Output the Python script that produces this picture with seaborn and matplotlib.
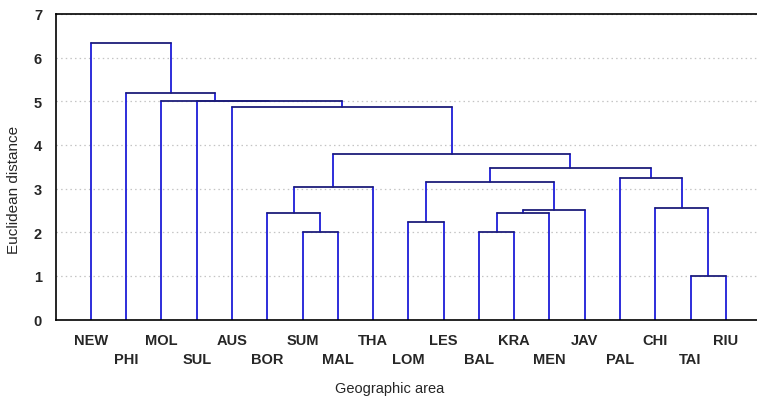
import matplotlib
matplotlib.use("Agg")
import matplotlib.pyplot as plt
import numpy as np
import pandas as pd
import seaborn as sns

# Leaf order along the x axis
areas = ["NEW", "PHI", "MOL", "SUL", "AUS", "BOR", "SUM", "MAL", "THA", "LOM",
         "LES", "BAL", "KRA", "MEN", "JAV", "PAL", "CHI", "TAI", "RIU"]

# Agglomeration steps: node ids < 19 are leaves, later ids are earlier merges
merge_left = [17, 6, 11, 9, 5, 21, 24, 16, 23, 22, 15, 28, 27, 4, 3, 2, 1, 0]
merge_right = [18, 7, 12, 10, 20, 13, 14, 19, 8, 25, 26, 29, 30, 31, 32, 33, 34, 35]
merge_height = [1.00, 2.01, 2.01, 2.24, 2.45, 2.45, 2.51, 2.55, 3.03, 3.16,
                3.25, 3.47, 3.79, 4.87, 5.00, 5.01, 5.18, 6.34]

y_ticks = [0, 1, 2, 3, 4, 5, 6, 7]

sns.set_theme(style="white")
plt.rcParams["font.family"] = ["Liberation Sans", "DejaVu Sans"]

# Positions of leaves and merged nodes
n = len(areas)
pos = {i: float(i + 1) for i in range(n)}
hgt = {i: 0.0 for i in range(n)}
vert_rows, horiz_rows = [], []
for k, (a, b, h) in enumerate(zip(merge_left, merge_right, merge_height)):
    node = n + k
    for side, child in (("l", a), ("r", b)):
        vert_rows += [dict(seg=f"{node}{side}", x=pos[child], y=hgt[child]),
                      dict(seg=f"{node}{side}", x=pos[child], y=h)]
    horiz_rows += [dict(seg=node, x=pos[a], y=h), dict(seg=node, x=pos[b], y=h)]
    pos[node] = (pos[a] + pos[b]) / 2
    hgt[node] = h

vert = pd.DataFrame(vert_rows)
horiz = pd.DataFrame(horiz_rows)

fig = plt.figure(figsize=(7.57, 4.02), dpi=100)
ax_w = 1 - 56 / 757 + 0.01
ax = fig.add_axes([56 / 757, 1 - 320.5 / 402, ax_w, 305.5 / 402])

ax.set_ylim(0, 7)
ax.set_xlim(0.01, 20.1)
ax.set_yticks(y_ticks)
ax.set_yticklabels([str(t) for t in y_ticks], fontsize=10.5, fontweight="bold")
ax.yaxis.grid(True, linestyle=(0, (1.2, 2.5)), color="#c4c4c4", linewidth=0.9)
ax.set_axisbelow(True)

sns.lineplot(data=vert, x="x", y="y", units="seg", estimator=None, sort=False,
             color="#1c1cd8", linewidth=1.3, ax=ax)
sns.lineplot(data=horiz, x="x", y="y", units="seg", estimator=None, sort=False,
             color="#1e1e7a", linewidth=1.3, ax=ax)

# Alternating two-row leaf labels
xs = np.arange(1, n + 1)
ax.set_xticks(xs[0::2])
ax.set_xticklabels(areas[0::2], fontsize=10.5, fontweight="bold")
ax.set_xticks(xs[1::2], minor=True)
ax.set_xticklabels(areas[1::2], minor=True, fontsize=10.5, fontweight="bold")
ax.tick_params(axis="x", which="major", length=0, pad=9.5)
ax.tick_params(axis="x", which="minor", length=0, pad=23.5)
ax.tick_params(axis="y", length=0, pad=10)

ax.set_xlabel("Geographic area", fontsize=10.5)
ax.set_ylabel("Euclidean distance", fontsize=11)
ax_px_w = ax_w * 757
ax.xaxis.set_label_coords((390 - 56) / ax_px_w, -62 / 305.5)
ax.yaxis.set_label_coords((21 - 56) / ax_px_w, (320.5 - 190) / 305.5)

for side in ("left", "bottom", "top"):
    ax.spines[side].set_visible(True)
    ax.spines[side].set_color("black")
    ax.spines[side].set_linewidth(1.2)
ax.spines["right"].set_visible(False)

fig.savefig("out.png", dpi=100)
